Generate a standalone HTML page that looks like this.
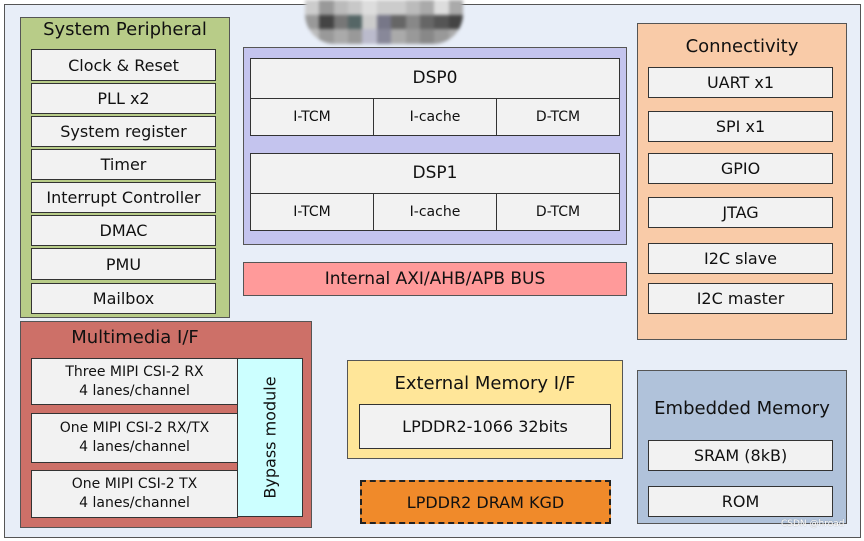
<!DOCTYPE html>
<html><head><meta charset="utf-8"><style>
*{box-sizing:border-box;margin:0;padding:0}
body{width:864px;height:541px;background:#fff;position:relative;overflow:hidden;font-family:"DejaVu Sans","Liberation Sans",sans-serif;color:#111}
div{position:absolute}
.b{background:#f2f2f2;border:1.5px solid #333;display:flex;align-items:center;justify-content:center;font-size:16px;text-align:center;line-height:19px}
.t{font-size:18px;text-align:center}
.s{font-size:14px}
</style></head><body>
<div style="left:4px;top:4px;width:857px;height:534px;background:#e8eef8;border:1.5px solid #555"></div>

<!-- blurred watermark -->
<div style="left:305px;top:0;width:158px;height:44px;border-radius:0 0 30px 30px;overflow:hidden;filter:blur(1.5px);display:grid;grid-template-columns:repeat(11,1fr);grid-template-rows:repeat(3,1fr)">
<i style="background:#ccc"></i><i style="background:#999"></i><i style="background:#bbb"></i><i style="background:#c8c8c8"></i><i style="background:#ddd"></i><i style="background:#ccc"></i><i style="background:#ccc"></i><i style="background:#bbb"></i><i style="background:#aaa"></i><i style="background:#ddd"></i><i style="background:#aaa"></i>
<i style="background:#999"></i><i style="background:#444"></i><i style="background:#777"></i><i style="background:#566"></i><i style="background:#ccc"></i><i style="background:#778"></i><i style="background:#666"></i><i style="background:#888"></i><i style="background:#666"></i><i style="background:#555"></i><i style="background:#444"></i>
<i style="background:#bbb"></i><i style="background:#999"></i><i style="background:#aaa"></i><i style="background:#999"></i><i style="background:#bbc"></i><i style="background:#889"></i><i style="background:#aaa"></i><i style="background:#999"></i><i style="background:#888"></i><i style="background:#999"></i><i style="background:#aaa"></i>
</div>

<!-- System Peripheral -->
<div style="left:20px;top:17px;width:210px;height:301px;background:#b8cc88;border:1.5px solid #555"></div>
<div class="t" style="left:20px;top:19px;width:210px">System Peripheral</div>
<div class="b" style="left:31px;top:49px;width:185px;height:32px">Clock &amp; Reset</div>
<div class="b" style="left:31px;top:83px;width:185px;height:31px">PLL x2</div>
<div class="b" style="left:31px;top:116px;width:185px;height:31px">System register</div>
<div class="b" style="left:31px;top:149px;width:185px;height:31px">Timer</div>
<div class="b" style="left:31px;top:182px;width:185px;height:31px">Interrupt Controller</div>
<div class="b" style="left:31px;top:215px;width:185px;height:31px">DMAC</div>
<div class="b" style="left:31px;top:248px;width:185px;height:32px">PMU</div>
<div class="b" style="left:31px;top:283px;width:185px;height:31px">Mailbox</div>

<!-- DSP -->
<div style="left:243px;top:47px;width:384px;height:198px;background:#c4c4ee;border:1.5px solid #555"></div>
<div class="b" style="left:250px;top:58px;width:370px;height:41px;font-size:17px">DSP0</div>
<div class="b s" style="left:250px;top:98px;width:124px;height:38px">I-TCM</div>
<div class="b s" style="left:373px;top:98px;width:124px;height:38px">I-cache</div>
<div class="b s" style="left:496px;top:98px;width:124px;height:38px">D-TCM</div>
<div class="b" style="left:250px;top:153px;width:370px;height:41px;font-size:17px">DSP1</div>
<div class="b s" style="left:250px;top:193px;width:124px;height:38px">I-TCM</div>
<div class="b s" style="left:373px;top:193px;width:124px;height:38px">I-cache</div>
<div class="b s" style="left:496px;top:193px;width:124px;height:38px">D-TCM</div>
<div class="b" style="left:243px;top:262px;width:384px;height:34px;background:#ff9a9a;font-size:17px;border-color:#555">Internal AXI/AHB/APB BUS</div>

<!-- Connectivity -->
<div style="left:637px;top:23px;width:210px;height:317px;background:#f9cba8;border:1.5px solid #555"></div>
<div class="t" style="left:637px;top:36px;width:210px">Connectivity</div>
<div class="b" style="left:648px;top:67px;width:185px;height:31px">UART x1</div>
<div class="b" style="left:648px;top:111px;width:185px;height:31px">SPI x1</div>
<div class="b" style="left:648px;top:153px;width:185px;height:31px">GPIO</div>
<div class="b" style="left:648px;top:197px;width:185px;height:31px">JTAG</div>
<div class="b" style="left:648px;top:243px;width:185px;height:31px">I2C slave</div>
<div class="b" style="left:648px;top:283px;width:185px;height:31px">I2C master</div>

<!-- Embedded Memory -->
<div style="left:637px;top:370px;width:210px;height:154px;background:#b0c2da;border:1.5px solid #555"></div>
<div class="t" style="left:637px;top:398px;width:210px">Embedded Memory</div>
<div class="b" style="left:648px;top:440px;width:185px;height:31px">SRAM (8kB)</div>
<div class="b" style="left:648px;top:486px;width:185px;height:31px">ROM</div>
<div style="left:781px;top:519px;font-size:9px;color:#fff;text-shadow:0 0 1px #888">CSDN @hroad</div>

<!-- Multimedia -->
<div style="left:20px;top:321px;width:292px;height:207px;background:#cd7068;border:1.5px solid #555"></div>
<div class="t" style="left:20px;top:327px;width:230px">Multimedia I/F</div>
<div class="b s" style="left:31px;top:358px;width:207px;height:47px;line-height:19px">Three MIPI CSI-2 RX<br>4 lanes/channel</div>
<div class="b s" style="left:31px;top:413px;width:207px;height:50px;line-height:19px">One MIPI CSI-2 RX/TX<br>4 lanes/channel</div>
<div class="b s" style="left:31px;top:470px;width:207px;height:48px;line-height:19px">One MIPI CSI-2 TX<br>4 lanes/channel</div>
<div class="b" style="left:237px;top:358px;width:66px;height:159px;background:#ccffff"><span style="transform:rotate(-90deg);white-space:nowrap;display:block">Bypass module</span></div>

<!-- External memory -->
<div style="left:347px;top:360px;width:276px;height:99px;background:#ffe699;border:1.5px solid #555"></div>
<div class="t" style="left:347px;top:373px;width:276px">External Memory I/F</div>
<div class="b" style="left:359px;top:404px;width:252px;height:45px">LPDDR2-1066 32bits</div>
<div class="b" style="left:360px;top:480px;width:251px;height:44px;background:#f08a2a;border:2px dashed #222">LPDDR2 DRAM KGD</div>
</body></html>
